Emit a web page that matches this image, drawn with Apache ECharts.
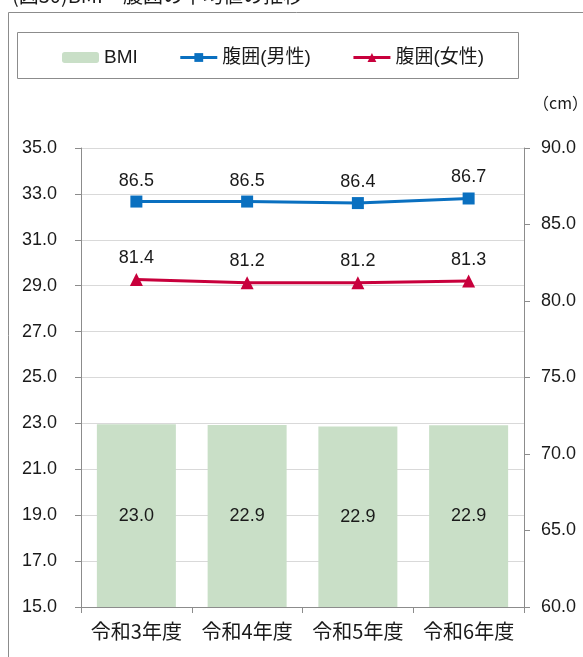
<!DOCTYPE html>
<html>
<head>
<meta charset="utf-8">
<script src="https://cdn.jsdelivr.net/npm/echarts@6/dist/echarts.min.js"></script>
<style>
  html, body { margin: 0; padding: 0; background: #fff; }
  #chart { width: 583px; height: 657px; }
</style>
</head>
<body>
<div id="chart"></div>
<script>
// 年度
const categories = ["令和3年度", "令和4年度", "令和5年度", "令和6年度"];
// BMI（左軸）
const bmiValues = [22.96, 22.93, 22.86, 22.92];
// 腹囲（右軸, cm）
const waistMale = [86.5, 86.5, 86.4, 86.7];
const waistFemale = [81.4, 81.2, 81.2, 81.3];

const FONT = "'Liberation Sans', 'Noto Sans CJK JP', sans-serif";
const JP = "'Noto Sans CJK JP', sans-serif";
const GRAY = "#8c8c8c";
const TXT = "#1a1a1a";

var myChart = echarts.init(document.getElementById("chart"));
let option = {
  animation: false,
  textStyle: { fontFamily: FONT },
  graphic: [
    {
      // タイトル（上端で切れている）
      type: "text",
      left: 12,
      top: -15,
      style: {
        text: "(図30)BMI・腹囲の平均値の推移",
        font: "20px " + JP,
        fill: TXT
      }
    },
    {
      type: "rect",
      shape: { x: 8.5, y: 12.5, width: 620, height: 700 },
      style: { fill: "none", stroke: GRAY, lineWidth: 1 }
    },
    {
      // 凡例の枠
      type: "rect",
      shape: { x: 17.5, y: 32.5, width: 501, height: 46 },
      style: { fill: "none", stroke: GRAY, lineWidth: 1 }
    },
    {
      type: "text",
      left: 533,
      top: 95,
      style: {
        text: "（cm）",
        font: "16px " + JP,
        fill: TXT
      }
    }
  ],
  legend: {
    top: 43,
    left: 57,
    itemWidth: 37,
    itemHeight: 11,
    itemGap: 41,
    lineStyle: { width: 3 },
    textStyle: { fontSize: 19, color: TXT, fontFamily: FONT },
    data: ["BMI", "腹囲(男性)", "腹囲(女性)"]
  },
  grid: {
    left: 81,
    right: 59,
    top: 148,
    bottom: 50
  },
  xAxis: {
    type: "category",
    data: categories,
    axisLine: { lineStyle: { color: GRAY } },
    axisTick: { show: true, length: 6, interval: 0, lineStyle: { color: GRAY } },
    axisLabel: {
      interval: 0,
      hideOverlap: false,
      color: TXT,
      fontSize: 20,
      margin: 14,
      fontFamily: JP
    }
  },
  yAxis: [
    {
      type: "value",
      min: 15,
      max: 35,
      interval: 2,
      axisLine: { show: true, lineStyle: { color: GRAY } },
      axisTick: { show: true, length: 6, lineStyle: { color: GRAY } },
      axisLabel: {
        color: TXT,
        fontSize: 18,
        margin: 24,
        formatter: v => v.toFixed(1)
      },
      splitLine: { lineStyle: { color: "#d9d9d9" } }
    },
    {
      type: "value",
      min: 60,
      max: 90,
      interval: 5,
      position: "right",
      axisLine: { show: true, lineStyle: { color: GRAY } },
      axisTick: { show: true, length: 6, lineStyle: { color: GRAY } },
      axisLabel: {
        color: TXT,
        fontSize: 18,
        margin: 17,
        formatter: v => v.toFixed(1)
      },
      splitLine: { show: false }
    }
  ],
  series: [
    {
      name: "BMI",
      type: "bar",
      yAxisIndex: 0,
      data: bmiValues,
      barWidth: 79,
      itemStyle: { color: "#c9dfc7" },
      label: {
        show: true,
        position: "inside",
        color: TXT,
        fontSize: 18,
        formatter: p => p.value.toFixed(1)
      }
    },
    {
      name: "腹囲(男性)",
      type: "line",
      yAxisIndex: 1,
      data: waistMale,
      symbol: "rect",
      symbolSize: 12,
      lineStyle: { color: "#0a70c0", width: 3 },
      itemStyle: { color: "#0a70c0" },
      label: {
        show: true,
        position: "top",
        distance: 6,
        color: TXT,
        fontSize: 18,
        formatter: p => p.value.toFixed(1)
      }
    },
    {
      name: "腹囲(女性)",
      type: "line",
      yAxisIndex: 1,
      data: waistFemale,
      symbol: "triangle",
      symbolSize: 13,
      lineStyle: { color: "#c8003c", width: 3 },
      itemStyle: { color: "#c8003c" },
      label: {
        show: true,
        position: "top",
        distance: 6,
        color: TXT,
        fontSize: 18,
        formatter: p => p.value.toFixed(1)
      }
    }
  ]
};
myChart.setOption(option);
</script>
</body>
</html>
